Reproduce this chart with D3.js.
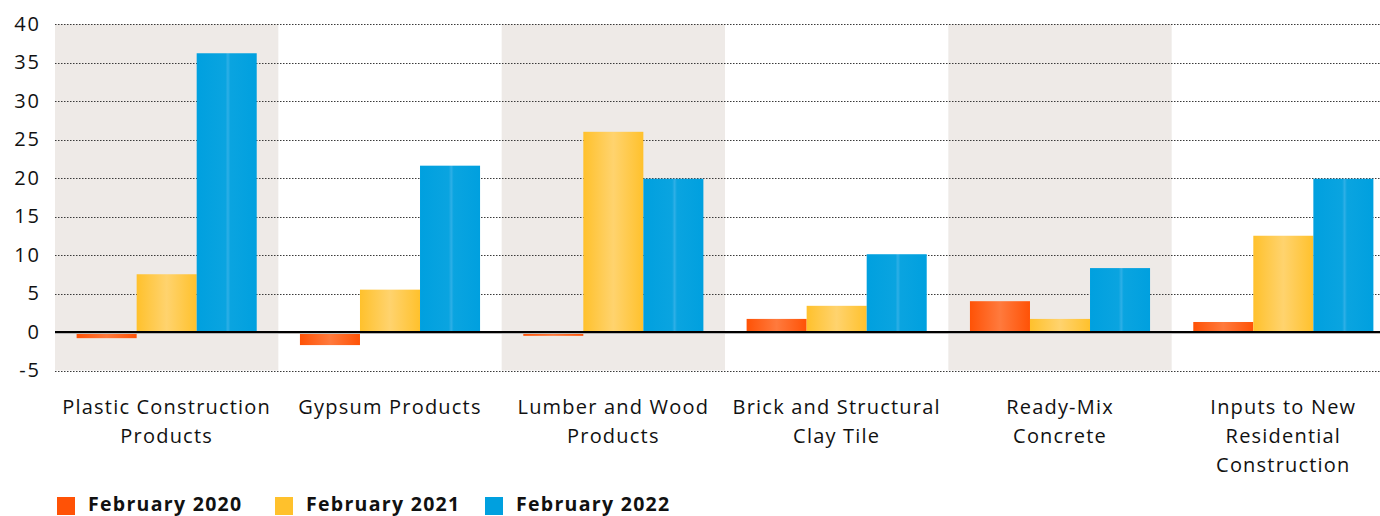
<!DOCTYPE html>
<html>
<head>
<meta charset="utf-8">
<script src="https://cdn.jsdelivr.net/npm/d3@7"></script>
<style>
  html, body { margin: 0; padding: 0; background: #fff; }
  svg { display: block; font-family: "Open Sans", "Noto Sans", sans-serif; }
</style>
</head>
<body>
<svg id="chart" width="1380" height="516"></svg>
<script>
// Year-over-year price change (%) for construction inputs
const categories = [
  ["Plastic Construction", "Products"],
  ["Gypsum Products"],
  ["Lumber and Wood", "Products"],
  ["Brick and Structural", "Clay Tile"],
  ["Ready-Mix", "Concrete"],
  ["Inputs to New", "Residential", "Construction"]
];
const seriesNames = ["February 2020", "February 2021", "February 2022"];
const feb2020 = [-0.8, -1.7, -0.5, 1.7, 4.0, 1.3];
const feb2021 = [7.5, 5.5, 26.0, 3.4, 1.7, 12.5];
const feb2022 = [36.2, 21.6, 19.9, 10.1, 8.3, 19.9];
const yTicks = [-5, 0, 5, 10, 15, 20, 25, 30, 35, 40];

const seriesValues = [feb2020, feb2021, feb2022];
const colors = [
  { edge: "#ff5206", mid: "#ff7a3d" },
  { edge: "#ffc12c", mid: "#ffd36e" },
  { edge: "#00a0df", mid: "#2eafe6" }
];

const svg = d3.select("#chart");
const plotLeft = 55, plotRight = 1395, edgeX = 1380;

const y = d3.scaleLinear().domain([-5, 40]).range([370.5, 24]);
const x0 = d3.scaleBand().domain(d3.range(categories.length)).range([plotLeft, plotRight]).padding(0);
const x1 = d3.scaleBand().domain(d3.range(seriesNames.length))
  .range([0, x0.bandwidth()]).paddingInner(0).paddingOuter(0.36);

// gradients giving each bar a soft highlight down its middle
const defs = svg.append("defs");
colors.forEach((c, i) => {
  const g = defs.append("linearGradient").attr("id", "grad" + i)
    .attr("x1", "0%").attr("x2", "100%").attr("y1", "0%").attr("y2", "0%");
  const stops = i === 2
    ? [[0, c.edge], [0.48, "#0aa4e0"], [0.52, c.mid], [0.56, "#0aa4e0"], [1, c.edge]]
    : [[0, c.edge], [0.5, c.mid], [1, c.edge]];
  stops.forEach(([o, col]) => g.append("stop").attr("offset", o).attr("stop-color", col));
});

// alternating background bands
svg.append("g").selectAll("rect")
  .data(d3.range(categories.length).filter(i => i % 2 === 0))
  .join("rect")
  .attr("x", i => x0(i))
  .attr("y", y(40))
  .attr("width", x0.bandwidth())
  .attr("height", y(-5) - y(40))
  .attr("fill", "#eeeae7");

// dotted gridlines
svg.append("g").selectAll("line")
  .data(yTicks.filter(t => t !== 0))
  .join("line")
  .attr("x1", plotLeft).attr("x2", edgeX)
  .attr("y1", t => Math.round(y(t)) + 0.5).attr("y2", t => Math.round(y(t)) + 0.5)
  .attr("stroke", "#3a3a3a")
  .attr("stroke-width", 1.2)
  .attr("stroke-dasharray", "1.5 1.5");

// y-axis labels
const yAxis = d3.axisLeft(y).tickValues(yTicks).tickSize(0).tickPadding(0)
  .tickFormat(d => d < 0 ? "-" + Math.abs(d) : d);
const ya = svg.append("g").attr("transform", "translate(41,0)").call(yAxis);
ya.select(".domain").remove();
ya.selectAll("text")
  .attr("font-size", 20)
  .attr("letter-spacing", 2)
  .attr("font-family", "'Open Sans', sans-serif")
  .attr("fill", "#111");

// bars
const groups = svg.append("g").selectAll("g")
  .data(d3.range(categories.length))
  .join("g")
  .attr("transform", i => `translate(${x0(i)},0)`);

groups.selectAll("rect")
  .data(i => seriesValues.map((vals, s) => ({ s, v: vals[i] })))
  .join("rect")
  .attr("x", d => x1(d.s))
  .attr("width", x1.bandwidth())
  .attr("y", d => y(Math.max(0, d.v)))
  .attr("height", d => Math.abs(y(d.v) - y(0)))
  .attr("fill", d => `url(#grad${d.s})`);

// zero baseline
const y0 = Math.round(y(0));
svg.append("line")
  .attr("x1", plotLeft).attr("x2", edgeX)
  .attr("y1", y0 + 1.5).attr("y2", y0 + 1.5)
  .attr("stroke", "#b5b5b5").attr("stroke-width", 1);
svg.append("line")
  .attr("x1", plotLeft).attr("x2", edgeX)
  .attr("y1", y0).attr("y2", y0)
  .attr("stroke", "#000").attr("stroke-width", 2);

// category labels
const xa = svg.append("g");
categories.forEach((lines, i) => {
  const cx = x0(i) + x0.bandwidth() / 2;
  const t = xa.append("text")
    .attr("x", cx)
    .attr("y", 414)
    .attr("text-anchor", "middle")
    .attr("font-size", 20)
    .attr("letter-spacing", 1.2)
    .attr("fill", "#111");
  lines.forEach((ln, k) => {
    t.append("tspan").attr("x", cx).attr("dy", k === 0 ? 0 : 29).text(ln);
  });
});

// legend
const legendX = [57, 275, 485];
const lg = svg.append("g");
seriesNames.forEach((name, s) => {
  lg.append("rect").attr("x", legendX[s]).attr("y", 497).attr("width", 18).attr("height", 18)
    .attr("fill", colors[s].edge);
  lg.append("text").attr("x", legendX[s] + 31).attr("y", 511)
    .attr("font-size", 19.5).attr("letter-spacing", 1.3)
    .attr("font-weight", "bold").attr("fill", "#111").text(name);
});
</script>
</body>
</html>
